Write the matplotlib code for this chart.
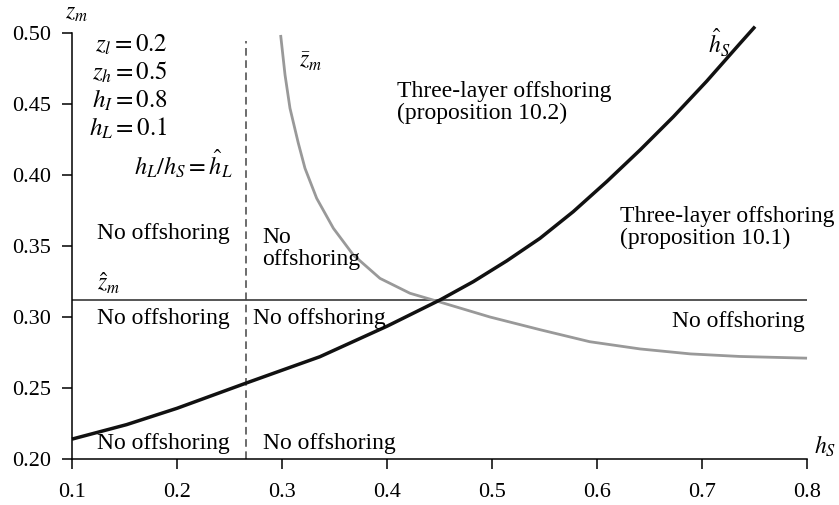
import numpy as np
import matplotlib
matplotlib.use('Agg')
from matplotlib import pyplot as plt

plt.rcParams['font.family'] = ['Liberation Serif', 'DejaVu Serif']
plt.rcParams['mathtext.fontset'] = 'stix'

# hat h_S boundary (black)
hs_hat_x = [0.10, 0.152, 0.20, 0.266, 0.30, 0.336, 0.40, 0.4505, 0.4822, 0.514, 0.5457, 0.5774,
            0.6092, 0.641, 0.6727, 0.7044, 0.736, 0.7505]
hs_hat_z = [0.214, 0.2242, 0.2357, 0.2535, 0.2625, 0.272, 0.2935, 0.312, 0.3249, 0.3395, 0.3554,
            0.3742, 0.3953, 0.4176, 0.441, 0.466, 0.4925, 0.5045]

# z bar curve (gray)
zbar_x = [0.2987, 0.3029, 0.3076, 0.3155, 0.3219, 0.333, 0.3489, 0.3679, 0.3933, 0.4219,
          0.4505, 0.498, 0.546, 0.593, 0.641, 0.689, 0.736, 0.80]
zbar_z = [0.4986, 0.4704, 0.447, 0.4225, 0.4047, 0.3836, 0.3625, 0.3437, 0.3272, 0.3167,
          0.3105, 0.300, 0.291, 0.2826, 0.2775, 0.274, 0.2722, 0.271]

z_hat = 0.312        # horizontal line
hL_hat_x = 0.266     # dashed vertical line h_L/h_S = hat h_L

xticks = [0.1, 0.2, 0.3, 0.4, 0.5, 0.6, 0.7, 0.8]
yticks = [0.20, 0.25, 0.30, 0.35, 0.40, 0.45, 0.50]

params = [r'$z_l = 0.2$', r'$z_h = 0.5$', r'$h_I = 0.8$', r'$h_L = 0.1$']

fig = plt.figure(figsize=(8.39, 5.05), dpi=100)
ax1 = fig.add_axes([0.0858, 0.0911, 0.8761, 0.8436])

ax1.hlines(z_hat, 0.1, 0.8, color='#555555', linewidth=1.4)
ax1.vlines(hL_hat_x, 0.20, 0.494, color='#444444', linewidth=1.1, linestyles=(0, (5, 3)))
ax1.plot(zbar_x, zbar_z, color='#999999', linewidth=2.0, solid_capstyle='butt',
         solid_joinstyle='round', clip_on=False)
ax1.plot(hs_hat_x, hs_hat_z, color='#111111', linewidth=2.5, solid_capstyle='butt',
         solid_joinstyle='round', clip_on=False)

ax1.set_xlim(0.1, 0.8)
ax1.set_ylim(0.20, 0.50)
ax1.set_xticks(xticks)
ax1.set_xticklabels(['%.1f' % v for v in xticks], fontsize=16)
ax1.set_yticks(yticks)
ax1.set_yticklabels(['%.2f' % v for v in yticks], fontsize=16)
ax1.tick_params(direction='out', length=7, width=1.1, pad=8)
ax1.tick_params(axis='x', pad=10)
for s in ['top', 'right']:
    ax1.spines[s].set_visible(False)
for s in ['left', 'bottom']:
    ax1.spines[s].set_linewidth(1.1)

# axis labels
ax1.text(0.104, 0.506, r'$z_m$', fontsize=17, ha='center', va='bottom', clip_on=False)
ax1.text(0.807, 0.200, r'$h_S$', fontsize=17, ha='left', va='bottom', clip_on=False)

# parameter block
for k, p in enumerate(params):
    ax1.text(0.191, 0.4915 - k * 0.0195, p, fontsize=18, ha='right', va='center')
ax1.text(0.253, 0.408, r'$h_L/h_S = \hat{h}_L$', fontsize=17.5, ha='right', va='center')

# curve labels
ax1.text(0.124, 0.324, r'$\hat{z}_m$', fontsize=17, ha='left', va='center')
ax1.text(0.3276, 0.4796, r'$\bar{z}_m$', fontsize=17, ha='center', va='center')
ax1.text(0.716, 0.493, r'$\hat{h}_S$', fontsize=17, ha='center', va='center')

# region labels
fs = 17
ax1.text(0.124, 0.359, 'No offshoring', fontsize=fs, ha='left', va='center')
ax1.text(0.281, 0.348, 'No\noffshoring', fontsize=fs, ha='left', va='center', linespacing=1.05)
ax1.text(0.124, 0.299, 'No offshoring', fontsize=fs, ha='left', va='center')
ax1.text(0.272, 0.299, 'No offshoring', fontsize=fs, ha='left', va='center')
ax1.text(0.124, 0.211, 'No offshoring', fontsize=fs, ha='left', va='center')
ax1.text(0.282, 0.211, 'No offshoring', fontsize=fs, ha='left', va='center')
ax1.text(0.798, 0.2965, 'No offshoring', fontsize=fs, ha='right', va='center')
ax1.text(0.4095, 0.451, 'Three-layer offshoring\n(proposition 10.2)', fontsize=fs, ha='left',
         va='center', linespacing=1.05)
ax1.text(0.622, 0.363, 'Three-layer offshoring\n(proposition 10.1)', fontsize=fs, ha='left',
         va='center', linespacing=1.05)

plt.savefig('out.png', dpi=100)
